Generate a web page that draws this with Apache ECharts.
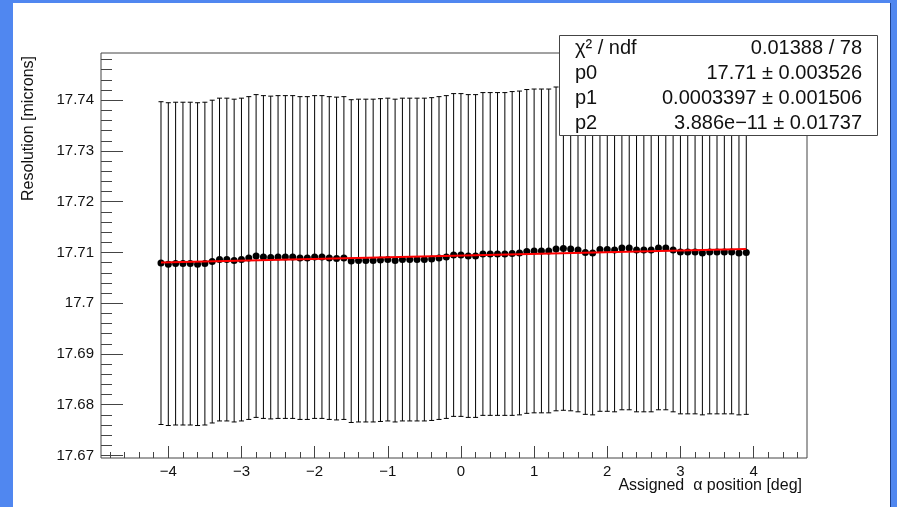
<!DOCTYPE html>
<html>
<head>
<meta charset="utf-8">
<title>Resolution vs assigned alpha position</title>
<script src="https://cdn.jsdelivr.net/npm/echarts@6/dist/echarts.min.js"></script>
<style>
  html, body { margin: 0; padding: 0; background: #ffffff; }
  #chart { width: 897px; height: 507px; }
</style>
</head>
<body>
<div id="chart"></div>
<script>
// Assigned alpha position of each measurement [deg]
const alphaPositions = [
  -4.1, -4.0, -3.9, -3.8, -3.7, -3.6, -3.5, -3.4, -3.3, -3.2,
  -3.1, -3.0, -2.9, -2.8, -2.7, -2.6, -2.5, -2.4, -2.3, -2.2,
  -2.1, -2.0, -1.9, -1.8, -1.7, -1.6, -1.5, -1.4, -1.3, -1.2,
  -1.1, -1.0, -0.9, -0.8, -0.7, -0.6, -0.5, -0.4, -0.3, -0.2,
  -0.1, 0.0, 0.1, 0.2, 0.3, 0.4, 0.5, 0.6, 0.7, 0.8,
  0.9, 1.0, 1.1, 1.2, 1.3, 1.4, 1.5, 1.6, 1.7, 1.8,
  1.9, 2.0, 2.1, 2.2, 2.3, 2.4, 2.5, 2.6, 2.7, 2.8,
  2.9, 3.0, 3.1, 3.2, 3.3, 3.4, 3.5, 3.6, 3.7, 3.8,
  3.9
];

// Resolution [microns] at each position
const resolution = [
  17.7079, 17.7077, 17.7078, 17.7078, 17.7078, 17.7077, 17.7078, 17.7082, 17.7086, 17.7086,
  17.7084, 17.7086, 17.7089, 17.7093, 17.7091, 17.7090, 17.7091, 17.7091, 17.7091, 17.7089,
  17.7089, 17.7091, 17.7091, 17.7089, 17.7088, 17.7089, 17.7083, 17.7084, 17.7084, 17.7084,
  17.7085, 17.7086, 17.7084, 17.7086, 17.7086, 17.7086, 17.7086, 17.7087, 17.7089, 17.7091,
  17.7095, 17.7095, 17.7093, 17.7093, 17.7097, 17.7097, 17.7097, 17.7097, 17.7098, 17.7099,
  17.7102, 17.7103, 17.7103, 17.7103, 17.7107, 17.7108, 17.7107, 17.7105, 17.7100, 17.7099,
  17.7106, 17.7106, 17.7105, 17.7109, 17.7109, 17.7105, 17.7105, 17.7105, 17.7109, 17.7109,
  17.7105, 17.7101, 17.7101, 17.7101, 17.7099, 17.7101, 17.7101, 17.7101, 17.7101, 17.7099,
  17.7100
];

// Symmetric uncertainty on each resolution value [microns]
const resolutionError = [
  0.0318, 0.0318, 0.0318, 0.0318, 0.0318, 0.0318, 0.0318, 0.0318, 0.0318, 0.0318,
  0.0318, 0.0318, 0.0318, 0.0318, 0.0318, 0.0318, 0.0318, 0.0318, 0.0318, 0.0318,
  0.0318, 0.0318, 0.0318, 0.0318, 0.0318, 0.0318, 0.0318, 0.0318, 0.0318, 0.0318,
  0.0318, 0.0318, 0.0318, 0.0318, 0.0318, 0.0318, 0.0318, 0.0318, 0.0318, 0.0318,
  0.0318, 0.0318, 0.0318, 0.0318, 0.0318, 0.0318, 0.0318, 0.0318, 0.0319, 0.0319,
  0.0319, 0.0319, 0.0319, 0.0319, 0.0319, 0.0319, 0.0319, 0.0319, 0.0319, 0.0319,
  0.0319, 0.0319, 0.0319, 0.0319, 0.0319, 0.0319, 0.0319, 0.0319, 0.0319, 0.0319,
  0.0319, 0.0319, 0.0319, 0.0319, 0.0319, 0.0319, 0.0319, 0.0319, 0.0319, 0.0319,
  0.0319
];

// Fitted pol2 curve evaluated at the ends of the fit range
const fitX = [-4.1, 3.9];
const fitY = [17.7080, 17.7107];

// Fit statistics box
const statNames = ['\u03C7\u00B2 / ndf', 'p0', 'p1', 'p2'];
const statValues = [
  '0.01388 / 78',
  '17.71 \u00B1 0.003526',
  '0.0003397 \u00B1 0.001506',
  '3.886e\u221211 \u00B1 0.01737'
];

// Axis ticks and labels
const xMajorTicks = [-4, -3, -2, -1, 0, 1, 2, 3, 4];
const yMajorTicks = [17.67, 17.68, 17.69, 17.70, 17.71, 17.72, 17.73, 17.74];
const xRange = [-4.92, 4.73];
const yRange = [17.6695, 17.7493];

const xMinorTicks = [];
for (let k = -24; k <= 23; k++) if (k % 5 !== 0) xMinorTicks.push(k / 5);
const yMinorTicks = [];
for (let k = 8835; k <= 8874; k++) if (k % 5 !== 0) yMinorTicks.push(+(k * 0.002).toFixed(3));

const FONT = '"Liberation Sans", Arial, Helvetica, sans-serif';
const INK = '#111111';
const FRAME = '#444444';
const BLUE = '#5087f0';

const plotRect = { left: 101, top: 53, width: 706, height: 405 };

const fmtX = v => (v < 0 ? '\u2212' + Math.abs(v) : String(v));
const fmtY = v => String(parseFloat((+v).toFixed(3)));

const pointData = alphaPositions.map((x, i) => [x, resolution[i]]);
const errorData = alphaPositions.map((x, i) => [x, resolution[i], resolutionError[i]]);
const fitData = fitX.map((x, i) => [x, fitY[i]]);

const chart = echarts.init(document.getElementById('chart'), null, { renderer: 'canvas' });

function tickAxis(gridIndex, range, pos, len, ticks, labels) {
  return {
    type: 'value', gridIndex: gridIndex, min: range[0], max: range[1], position: pos,
    axisLine: { show: false, onZero: false },
    splitLine: { show: false },
    axisTick: { show: true, inside: true, length: len, customValues: ticks, lineStyle: { color: FRAME, width: 1 } },
    axisLabel: labels || { show: false }
  };
}

chart.setOption({
  animation: false,
  backgroundColor: '#ffffff',
  textStyle: { fontFamily: FONT },
  grid: [
    Object.assign({ show: true, borderColor: FRAME, borderWidth: 1, backgroundColor: 'transparent' }, plotRect),
    Object.assign({ show: false }, plotRect)
  ],
  xAxis: [
    tickAxis(0, xRange, 'bottom', 12, xMajorTicks,
      { show: true, customValues: xMajorTicks, formatter: fmtX, color: INK, fontSize: 15, fontFamily: FONT, margin: 6 }),
    tickAxis(1, xRange, 'bottom', 6, xMinorTicks, null)
  ],
  yAxis: [
    tickAxis(0, yRange, 'left', 22, yMajorTicks,
      { show: true, customValues: yMajorTicks, formatter: fmtY, color: INK, fontSize: 15, fontFamily: FONT, margin: 7 }),
    tickAxis(1, yRange, 'left', 11, yMinorTicks, null)
  ],
  series: [
    {
      name: 'errors',
      type: 'custom',
      xAxisIndex: 0, yAxisIndex: 0,
      z: 2,
      data: errorData,
      renderItem: function (params, api) {
        const x = api.value(0), y = api.value(1), e = api.value(2);
        const top = api.coord([x, y + e]);
        const bot = api.coord([x, y - e]);
        const cap = 2.5;
        const style = { stroke: '#000000', lineWidth: 1 };
        return {
          type: 'group',
          children: [
            { type: 'line', shape: { x1: top[0], y1: top[1], x2: bot[0], y2: bot[1] }, style: style },
            { type: 'line', shape: { x1: top[0] - cap, y1: top[1], x2: top[0] + cap, y2: top[1] }, style: style },
            { type: 'line', shape: { x1: bot[0] - cap, y1: bot[1], x2: bot[0] + cap, y2: bot[1] }, style: style }
          ]
        };
      }
    },
    {
      name: 'resolution',
      type: 'scatter',
      xAxisIndex: 0, yAxisIndex: 0,
      z: 3,
      symbol: 'circle',
      symbolSize: 7,
      itemStyle: { color: '#000000', opacity: 1 },
      data: pointData
    },
    {
      name: 'fit',
      type: 'line',
      xAxisIndex: 0, yAxisIndex: 0,
      z: 4,
      symbol: 'none',
      lineStyle: { color: '#ff0000', width: 2 },
      data: fitData
    }
  ],
  graphic: [
    // canvas frame
    { type: 'rect', z: 100, shape: { x: 0, y: 0, width: 13, height: 507 }, style: { fill: BLUE } },
    { type: 'rect', z: 100, shape: { x: 0, y: 0, width: 897, height: 3 }, style: { fill: BLUE } },
    { type: 'rect', z: 100, shape: { x: 891, y: 0, width: 6, height: 507 }, style: { fill: BLUE } },
    { type: 'rect', z: 100, shape: { x: 890, y: 3, width: 1, height: 504 }, style: { fill: '#1d3f8a' } },
    // axis titles
    {
      type: 'text', z: 100, x: 802, y: 486,
      style: { text: 'Assigned  \u03B1 position [deg]', fill: INK, font: '16px ' + FONT, textAlign: 'right', textVerticalAlign: 'middle' }
    },
    {
      type: 'text', z: 100, x: 29, y: 56, rotation: Math.PI / 2,
      style: { text: 'Resolution [microns]', fill: INK, font: '16px ' + FONT, textAlign: 'right', textVerticalAlign: 'middle' }
    },
    // fit statistics box
    {
      type: 'group', z: 100,
      children: [
        { type: 'rect', z: 100, shape: { x: 559.5, y: 35.5, width: 318, height: 100 }, style: { fill: '#ffffff', stroke: FRAME, lineWidth: 1 } }
      ].concat(statNames.map((name, i) => ({
        type: 'text', z: 101, x: 575, y: 48 + i * 25.3,
        style: { text: name, fill: INK, font: '20px ' + FONT, textAlign: 'left', textVerticalAlign: 'middle' }
      }))).concat(statValues.map((val, i) => ({
        type: 'text', z: 101, x: 862, y: 48 + i * 25.3,
        style: { text: val, fill: INK, font: '20px ' + FONT, textAlign: 'right', textVerticalAlign: 'middle' }
      })))
    }
  ]
});
</script>
</body>
</html>
